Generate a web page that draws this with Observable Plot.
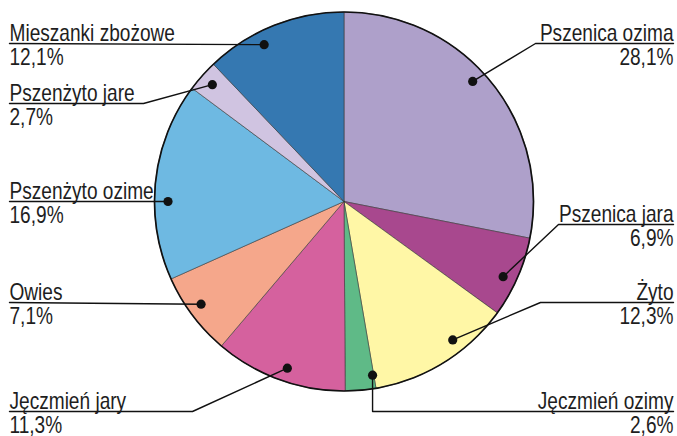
<!DOCTYPE html>
<html>
<head>
<meta charset="utf-8">
<script src="https://cdn.jsdelivr.net/npm/d3@7"></script>
<script src="https://cdn.jsdelivr.net/npm/@observablehq/plot@0.6"></script>
<style>
  html, body { margin: 0; padding: 0; background: #ffffff; }
  #chart svg { display: block; }
</style>
</head>
<body>
<div id="chart"></div>
<script>
// ---- data (clockwise from 12 o'clock) ----
const categories = ["Pszenica ozima", "Pszenica jara", "Żyto", "Jęczmień ozimy", "Jęczmień jary", "Owies", "Pszenżyto ozime", "Pszenżyto jare", "Mieszanki zbożowe"];
const shares = [28.1, 6.9, 12.3, 2.6, 11.3, 7.1, 16.9, 2.7, 12.1];
const colors = ["#aea0ca", "#a8488e", "#fff7a6", "#5fba87", "#d5619e", "#f5a78b", "#6eb9e2", "#d0c4e1", "#3578b1"];

// ---- layout (label placement) ----
const W = 677, H = 436;
const CX = 343.5, CY = 201, R = 189.5;
const DOT_R = 176;
const LEFT_X = 9, RIGHT_X = 673;
const NARROW = 0.83; // horizontal condensing of the label font
// side, underline y, kind of leader, elbow x, angular nudge of dot (deg)
const labelLayout = [
  {side: "right", lineY: 43,  kind: "elbow",    elbowX: 535, nudge: -3.6},
  {side: "right", lineY: 224, kind: "elbow",    elbowX: 558, nudge: 1.7},
  {side: "right", lineY: 302, kind: "elbow",    elbowX: 540, nudge: -6.3},
  {side: "right", lineY: 411, kind: "vertical", elbowX: null, nudge: -4.3},
  {side: "left",  lineY: 411, kind: "elbow",    elbowX: 192, nudge: -1.2},
  {side: "left",  lineY: 302, kind: "straight", elbowX: null, nudge: 1.2},
  {side: "left",  lineY: 201, kind: "straight", elbowX: null, nudge: -6.3},
  {side: "left",  lineY: 103, kind: "elbow",    elbowX: 143, nudge: 0},
  {side: "left",  lineY: 43,  kind: "straight", elbowX: null, nudge: -5.2}
];

// ---- geometry from data ----
const arcs = d3.pie().sort(null).value(i => shares[i])(d3.range(categories.length));
const polar = (a, r) => ({x: CX + r * Math.sin(a), y: CY - r * Math.cos(a)});

const slicePts = arcs.flatMap(a => {
  const name = categories[a.data];
  const n = Math.max(4, Math.ceil((a.endAngle - a.startAngle) / 0.005));
  const pts = [{name, x: CX, y: CY}];
  for (let k = 0; k <= n; k++) {
    const p = polar(a.startAngle + (a.endAngle - a.startAngle) * k / n, R);
    pts.push({name, ...p});
  }
  pts.push({name, x: CX, y: CY});
  return pts;
});

const dots = arcs.map(a => {
  const L = labelLayout[a.data];
  const mid = (a.startAngle + a.endAngle) / 2 + L.nudge * Math.PI / 180;
  return {name: categories[a.data], ...polar(mid, DOT_R)};
});

const leaderPts = dots.flatMap((d, i) => {
  const L = labelLayout[i];
  const endX = L.side === "right" ? RIGHT_X : LEFT_X;
  let pts;
  if (L.kind === "straight") pts = [{x: d.x, y: d.y}, {x: endX, y: L.lineY}];
  else if (L.kind === "vertical") pts = [{x: d.x, y: d.y}, {x: d.x, y: L.lineY}, {x: endX, y: L.lineY}];
  else pts = [{x: d.x, y: d.y}, {x: L.elbowX, y: L.lineY}, {x: endX, y: L.lineY}];
  return pts.map(p => ({name: categories[i], ...p}));
});

const labels = categories.map((name, i) => ({
  name,
  value: shares[i].toFixed(1).replace(".", ",") + "%",
  side: labelLayout[i].side,
  x: labelLayout[i].side === "right" ? RIGHT_X : LEFT_X,
  y: labelLayout[i].lineY
}));
const right = labels.filter(d => d.side === "right");
const left = labels.filter(d => d.side === "left");

const FONT = "'Liberation Sans', Arial, Helvetica, sans-serif";
const textOpts = {fontSize: 23, fill: "#1e1e1e", lineAnchor: "bottom"};

const chart = Plot.plot({
  width: W,
  height: H,
  margin: 0,
  style: {background: "#ffffff", fontFamily: FONT},
  x: {domain: [0, W], range: [0, W], axis: null},
  y: {domain: [0, H], range: [0, H], axis: null},
  color: {domain: categories, range: colors},
  marks: [
    Plot.line(slicePts, {x: "x", y: "y", z: "name", fill: "name", stroke: "#3a3a3a", strokeWidth: 0.6, strokeLinejoin: "round"}),
    Plot.dot([{x: CX, y: CY}], {x: "x", y: "y", r: R, fill: "none", stroke: "#111111", strokeWidth: 1.7}),
    Plot.line(leaderPts, {x: "x", y: "y", z: "name", stroke: "#111111", strokeWidth: 1.4}),
    Plot.dot(dots, {x: "x", y: "y", r: 4.6, fill: "#111111", stroke: "none"}),
    Plot.text(right, {x: "x", y: "y", text: "name", textAnchor: "end", dy: -3, ...textOpts}),
    Plot.text(right, {x: "x", y: "y", text: "value", textAnchor: "end", dy: 21, ...textOpts}),
    Plot.text(left, {x: "x", y: "y", text: "name", textAnchor: "start", dy: -3, ...textOpts}),
    Plot.text(left, {x: "x", y: "y", text: "value", textAnchor: "start", dy: 21, ...textOpts})
  ]
});
// condense the label glyphs horizontally around their anchor
chart.querySelectorAll('g[aria-label="text"] text').forEach(t => {
  const tr = t.getAttribute("transform") || "";
  t.setAttribute("transform", tr + ` scale(${NARROW},1)`);
});
document.getElementById("chart").appendChild(chart);
</script>
</body>
</html>
